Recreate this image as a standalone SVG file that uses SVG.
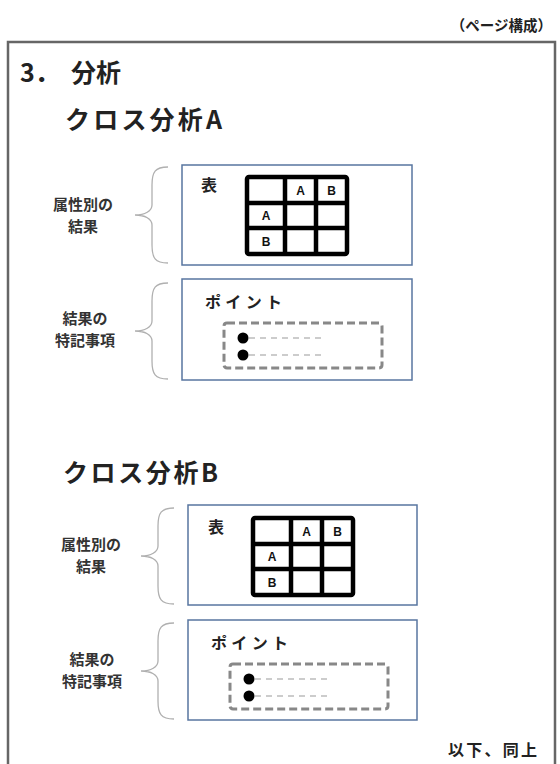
<svg xmlns="http://www.w3.org/2000/svg" width="560" height="764" viewBox="0 0 560 764">
<style>
text{font-family:"Noto Sans CJK JP","Noto Sans",sans-serif;font-weight:bold;fill:#222}
.h{font-size:25px}
.lbl{font-size:15px;text-anchor:middle;fill:#333}
.small{font-size:16px}
.cell{font-family:"Liberation Sans",Arial,sans-serif;font-size:12px;font-weight:bold;text-anchor:middle;fill:#111}
.box{fill:#fff;stroke:#5876a0;stroke-width:1.5}
.tbl{fill:none;stroke:#000;stroke-width:4.5;stroke-linejoin:round}
.dbox{fill:none;stroke:#888;stroke-width:3;stroke-dasharray:8 4}
.dl{stroke:#999;stroke-width:1.2;stroke-dasharray:6 5}
.brace{fill:none;stroke:#b0b0b0;stroke-width:1.3}
</style>
<defs>
<path id="br" class="brace" d="M33,0 C20,0 17,5 17,18 L17,38 C17,44 10,48 0,48 C10,48 17,52 17,58 L17,78 C17,91 20,96 33,96"/>
<g id="table">
<rect class="tbl" x="0" y="0" width="100" height="77" rx="2"/>
<path class="tbl" d="M38,0 V77 M69,0 V77 M0,26 H100 M0,51 H100"/>
<text class="cell" x="53.5" y="17.5">A</text>
<text class="cell" x="84.5" y="17.5">B</text>
<text class="cell" x="19" y="43">A</text>
<text class="cell" x="19" y="68.5">B</text>
</g>
<g id="points">
<rect class="dbox" x="0" y="0" width="158" height="45" rx="3"/>
<circle cx="19" cy="15" r="5.5" fill="#000"/>
<circle cx="19" cy="32" r="5.5" fill="#000"/>
<path class="dl" d="M25,15 H100 M25,32 H100"/>
</g>
</defs>
<rect width="560" height="764" fill="#fff"/>
<text id="page-title" x="552" y="31" text-anchor="end" style="font-size:14.5px">（ページ構成）</text>
<g id="frame"><path d="M8,790 V42 H555 V790" fill="none" stroke="#666" stroke-width="2.5"/></g>
<text id="heading" class="h" y="82"><tspan x="20">3．</tspan><tspan x="71">分析</tspan></text>
<text id="headA" class="h" x="65" y="129" textLength="157" lengthAdjust="spacing">クロス分析A</text>
<text id="headB" class="h" x="63" y="482" textLength="155" lengthAdjust="spacing">クロス分析B</text>

<g id="connectors">
<use href="#br" transform="translate(135,167)"/>
<use href="#br" transform="translate(135,283)"/>
<use href="#br" transform="translate(141,508)"/>
<use href="#br" transform="translate(141,623)"/>
</g>

<g id="labelA1"><text class="lbl" x="83" y="210">属性別の</text><text class="lbl" x="83" y="232">結果</text></g>
<g id="labelA2"><text class="lbl" x="85" y="324">結果の</text><text class="lbl" x="85" y="346">特記事項</text></g>
<g id="labelB1"><text class="lbl" x="91" y="550">属性別の</text><text class="lbl" x="91" y="572">結果</text></g>
<g id="labelB2"><text class="lbl" x="92" y="665">結果の</text><text class="lbl" x="92" y="687">特記事項</text></g>

<g id="boxA1">
<rect class="box" x="182" y="165" width="230" height="100"/>
<text class="small" x="201" y="191">表</text>
<use href="#table" transform="translate(247,177)"/>
</g>
<g id="boxA2">
<rect class="box" x="182" y="279" width="230" height="101"/>
<text class="small" x="205" y="308" textLength="77" lengthAdjust="spacing">ポイント</text>
<use href="#points" transform="translate(224,323)"/>
</g>
<g id="boxB1">
<rect class="box" x="188" y="505" width="229" height="100"/>
<text class="small" x="208" y="533">表</text>
<use href="#table" transform="translate(253,518)"/>
</g>
<g id="boxB2">
<rect class="box" x="188" y="620" width="229" height="100"/>
<text class="small" x="211" y="649" textLength="77" lengthAdjust="spacing">ポイント</text>
<use href="#points" transform="translate(230,664)"/>
</g>
<text id="footer" class="small" x="448" y="756" textLength="89" lengthAdjust="spacing">以下、同上</text>
</svg>
